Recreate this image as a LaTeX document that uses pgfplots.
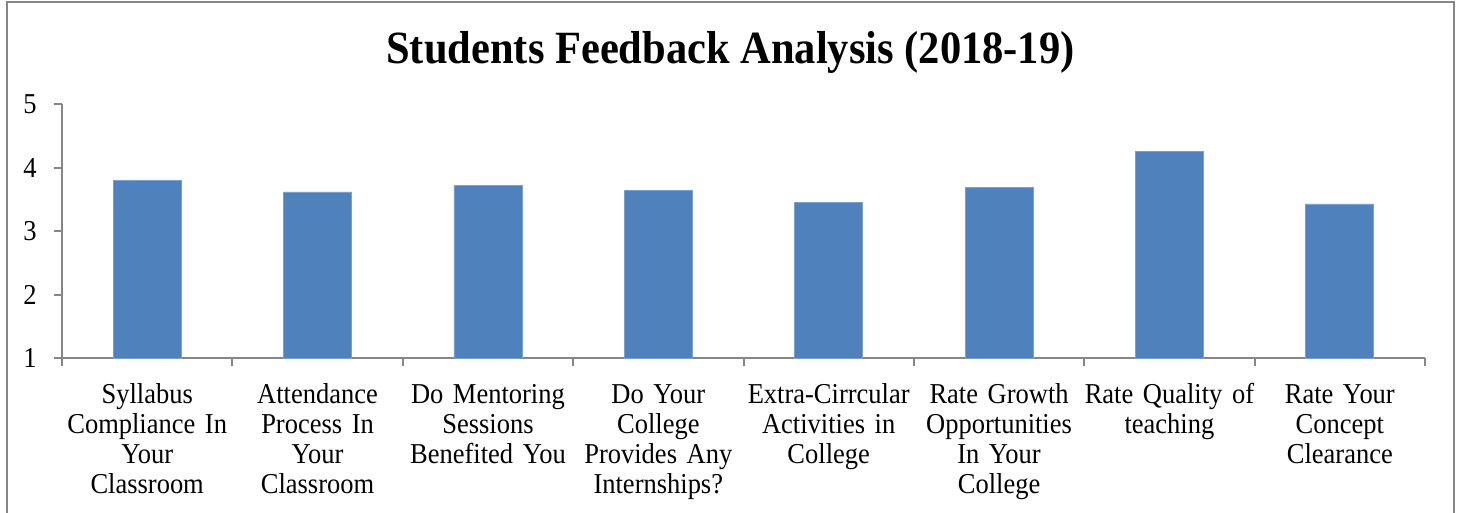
\documentclass[border=0pt]{standalone}
\usepackage{fontspec}
\setmainfont{Liberation Serif}[FakeStretch=0.92]
\usepackage{pgfplots}
\pgfplotsset{compat=1.18}
\definecolor{barblue}{HTML}{4F81BD}
\definecolor{axgray}{HTML}{868686}
\begin{document}
\begin{tikzpicture}
\useasboundingbox (-31pt,-77.35pt) rectangle (700pt,179.15pt);
\draw[axgray, line width=1.2pt] (-27.5pt,-100pt) -- (-27.5pt,178.15pt) -- (696pt,178.15pt) -- (696pt,-100pt);
\begin{axis}[
  at={(0,0)}, anchor=south west,
  scale only axis, width=681.5pt, height=127pt,
  xmin=-0.5, xmax=7.5, ymin=1, ymax=5,
  axis lines=left, axis line style={-, axgray, line width=1pt},
  ybar, bar width=34pt, bar shift=0pt,
  ytick={1,2,3,4,5},
  xtick={0,1,2,3,4,5,6,7},
  minor xtick={-0.5,0.5,1.5,2.5,3.5,4.5,5.5,6.5,7.5},
  tick align=outside,
  major tick length=4pt, minor tick length=4pt,
  major x tick style={draw=none},
  minor x tick style={axgray, line width=1pt},
  y tick style={axgray, line width=1pt},
  /pgf/number format/assume math mode=true,
  ticklabel style={font=\fontsize{14.4}{15}\selectfont},
  yticklabel style={anchor=east, inner sep=0pt, xshift=-8.5pt},
  xticklabel style={anchor=base, text width=95pt, align=center, inner sep=0pt, yshift=-18.5pt},
  xticklabels={
    {Syllabus\\Compliance In\\Your\\Classroom},
    {Attendance\\Process In\\Your\\Classroom},
    {Do Mentoring\\Sessions\\Benefited You},
    {Do Your\\College\\Provides Any\\Internships?},
    {Extra-Cirrcular\\Activities in\\College},
    {Rate Growth\\Opportunities\\In Your\\College},
    {Rate Quality of\\teaching},
    {Rate Your\\Concept\\Clearance}},
  title={Students Feedback Analysis (2018-19)},
  title style={at={(0.5,1)}, anchor=base, yshift=14.65pt, xshift=-6.5pt, inner sep=0pt, font=\fontsize{23.1}{27}\selectfont\bfseries},
]
\addplot[fill=barblue, draw=barblue!75!white, line width=0.4pt] coordinates {
  (0,3.80) (1,3.62) (2,3.72) (3,3.65) (4,3.46) (5,3.69) (6,4.26) (7,3.43)
};
\end{axis}
\end{tikzpicture}
\end{document}
